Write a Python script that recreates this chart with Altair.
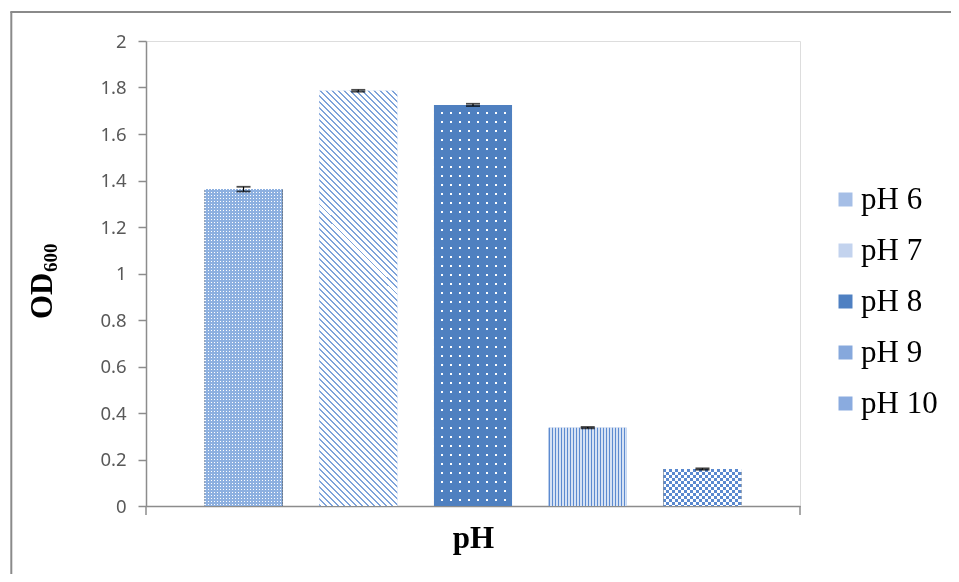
import math
import altair as alt
import pandas as pd

# ---- data ----
categories = ["pH 6", "pH 7", "pH 8", "pH 9", "pH 10"]
od600 = [1.363, 1.786, 1.725, 0.337, 0.159]
errors = [0.010, 0.004, 0.005, 0.003, 0.003]
y_ticks = [0, 0.2, 0.4, 0.6, 0.8, 1.0, 1.2, 1.4, 1.6, 1.8, 2.0]
y_title_parts = ["OD", "600"]
x_title = "pH"

# solid fills (average tone of each hatch pattern, used for legend swatches)
fills = ["#a5bee6", "#c3d3ee", "#4f80c2", "#86a8dc", "#8aabdf"]

W, H = 654, 465
df = pd.DataFrame({"ph": categories, "od": od600, "err": errors})
df["lo"] = df["od"] - df["err"]
df["hi"] = df["od"] + df["err"]

AXIS_GRAY = "#8c8c8c"

x_enc = alt.X(
    "ph:N", sort=categories,
    scale=alt.Scale(paddingInner=0.32, paddingOuter=0.51),
    axis=alt.Axis(title=x_title, labels=False, ticks=False, domainColor=AXIS_GRAY,
                  domainWidth=1.5, titleFont="Liberation Serif", titleFontSize=31,
                  titleFontWeight="bold", titleColor="black", titlePadding=17),
)
y_enc = alt.Y(
    "od:Q", scale=alt.Scale(domain=[0, 2], nice=False),
    axis=alt.Axis(title=None, values=y_ticks, format="~g", grid=False,
                  domainColor=AXIS_GRAY, domainWidth=1.5, tickColor=AXIS_GRAY,
                  tickSize=8, tickWidth=1.5, labelFont="Noto Sans", labelFontSize=18.5,
                  labelColor="#595959", labelPadding=12),
)

bars = alt.Chart(df).mark_bar().encode(
    x=x_enc, y=y_enc,
    color=alt.Color("ph:N", sort=categories,
                    scale=alt.Scale(domain=categories, range=fills),
                    legend=alt.Legend(title=None, orient="none", legendX=684, legendY=143,
                                      symbolType="square", symbolSize=196,
                                      symbolStrokeWidth=0, labelFont="Liberation Serif",
                                      labelFontSize=31, labelColor="black",
                                      labelOffset=0, rowPadding=19, padding=0)),
)


def stripes(n, c1, c2, x1, y1, x2, y2, frac=0.5):
    stops = []
    for i in range(n):
        a = i / n
        b = (i + frac) / n
        c = (i + 1) / n
        stops += [{"color": c1, "offset": a}, {"color": c1, "offset": b},
                  {"color": c2, "offset": b}, {"color": c2, "offset": c}]
    return {"gradient": "linear", "x1": x1, "y1": y1, "x2": x2, "y2": y2, "stops": stops}


band_w = 78
heights = [v * H / 2 for v in od600]


def vstripes(period, c1, c2, frac):
    n = math.ceil(band_w / period)
    return stripes(n, c1, c2, 0, 0, n * period / band_w, 0, frac=frac)


def hstripes(h, period, c1, c2, frac):
    n = math.ceil(h / period)
    return stripes(n, c1, c2, 0, 0, 0, n * period / h, frac=frac)


def one_bar(name, **mark):
    return alt.Chart(df).transform_filter(alt.datum.ph == name).mark_bar(**mark).encode(x=x_enc, y=y_enc)


layers = [bars]

# pH 6: light blue with a fine grid of white dots
layers += [
    one_bar("pH 6", fill=vstripes(3, "#ffffff", "#000000", 0.4)),
    one_bar("pH 6", fill=hstripes(heights[0], 3, "#ffffff", "#000000", 0.4), blend="multiply"),
    one_bar("pH 6", fill="#8db0e0", blend="screen"),
]

# pH 7: diagonal "\" stripes on white
h7 = heights[1]
k = (band_w + h7) / (band_w ** 2 + h7 ** 2)
layers.append(one_bar("pH 7", fill=stripes(82, "#7ea3da", "#ffffff", 0, 1, k * band_w, 1 - k * h7, frac=0.33)))

# pH 8: solid blue with sparse white dots
layers += [
    one_bar("pH 8", fill=vstripes(9, "#000000", "#ffffff", 0.8)),
    one_bar("pH 8", fill=hstripes(heights[2], 9, "#000000", "#ffffff", 0.8), blend="multiply"),
    one_bar("pH 8", fill="#4f80c0", blend="screen"),
]

# pH 9: vertical stripes
layers.append(one_bar("pH 9", fill=vstripes(3, "#5d8bd0", "#d6e2f4", 0.5)))

# pH 10: checkerboard
layers += [
    one_bar("pH 10", fill=vstripes(6, "#000000", "#ffffff", 0.5)),
    one_bar("pH 10", fill=hstripes(heights[4], 6, "#000000", "#ffffff", 0.5), blend="difference"),
    one_bar("pH 10", fill="#5a89cf", blend="screen"),
]

err_rule = alt.Chart(df).mark_rule(color="black", strokeWidth=1.2).encode(
    x=x_enc, y=alt.Y("lo:Q"), y2="hi:Q")
cap_lo = alt.Chart(df).mark_tick(color="black", size=14, thickness=1.8).encode(x=x_enc, y=alt.Y("lo:Q"))
cap_hi = alt.Chart(df).mark_tick(color="black", size=14, thickness=1.8).encode(x=x_enc, y=alt.Y("hi:Q"))
layers += [err_rule, cap_lo, cap_hi]

one = pd.DataFrame({"k": [0]})
layers += [
    alt.Chart(one).mark_rule(color=AXIS_GRAY, strokeWidth=1.5).encode(
        x=alt.value(0), y=alt.value(H), y2=alt.value(H + 9)),
    alt.Chart(one).mark_rule(color=AXIS_GRAY, strokeWidth=1.5).encode(
        x=alt.value(W), y=alt.value(H), y2=alt.value(H + 9)),
]

layers += [
    alt.Chart(pd.DataFrame({"t": [y_title_parts[0]]})).mark_text(
        angle=270, align="left", baseline="alphabetic", font="Liberation Serif",
        fontSize=31, fontWeight="bold", color="black").encode(
        x=alt.value(-94), y=alt.value(278), text="t:N"),
    alt.Chart(pd.DataFrame({"t": [y_title_parts[1]]})).mark_text(
        angle=270, align="left", baseline="alphabetic", font="Liberation Serif",
        fontSize=19, fontWeight="bold", color="black").encode(
        x=alt.value(-89), y=alt.value(231), text="t:N"),
]

# outer frame (only top and left edges are visible in the reference)
layers += [
    alt.Chart(one).mark_rule(color="#8a8a8a", strokeWidth=2).encode(
        x=alt.value(-134.7), y=alt.value(-29), y2=alt.value(560)),
    alt.Chart(one).mark_rule(color="#8a8a8a", strokeWidth=2).encode(
        x=alt.value(-135.7), x2=alt.value(806), y=alt.value(-29)),
]

chart = alt.layer(*layers).properties(
    width=W, height=H,
    autosize=alt.AutoSizeParams(type="none"),
    padding={"left": 138, "top": 33, "right": 151, "bottom": 68},
).configure_view(stroke=None).configure(background="white")

chart.save("out.html", embed_options={"renderer": "svg", "actions": False})
